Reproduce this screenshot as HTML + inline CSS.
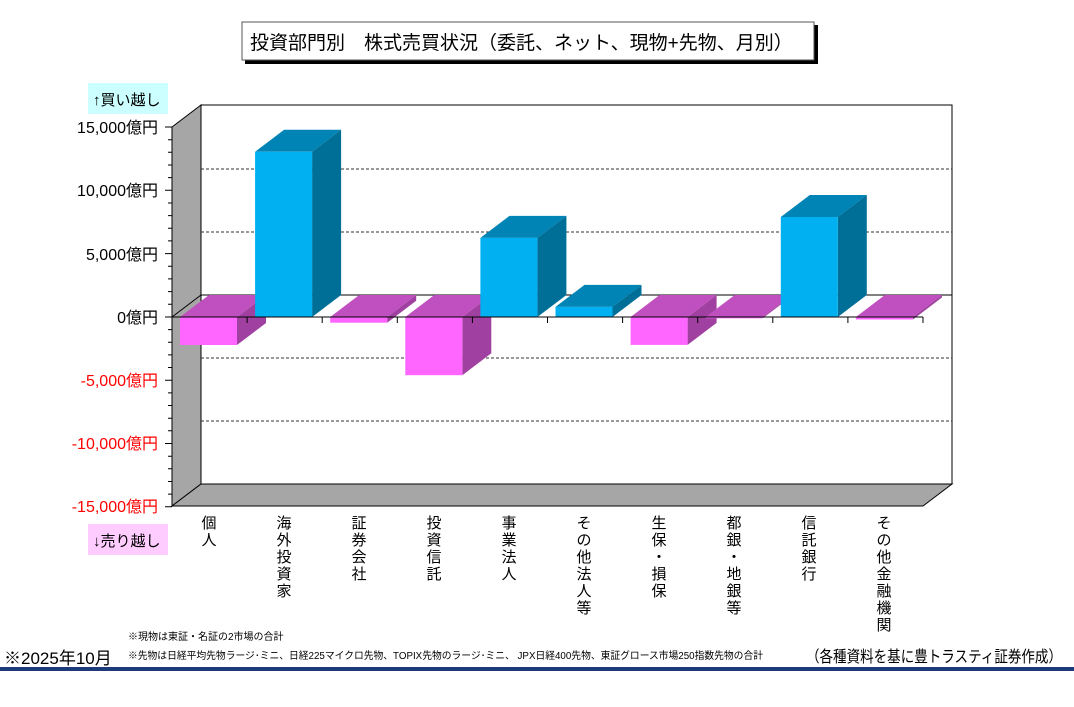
<!DOCTYPE html>
<html><head><meta charset="utf-8"><style>
body{margin:0;width:1074px;height:707px;background:#fff;overflow:hidden;font-family:"Liberation Sans","Noto Sans CJK JP",sans-serif;}
svg{position:absolute;left:0;top:0}
</style></head><body>
<svg width="1074" height="707" xmlns="http://www.w3.org/2000/svg" font-family="Liberation Sans, Noto Sans CJK JP, sans-serif">
<rect x="245" y="25" width="573" height="39" fill="#000"/>
<rect x="242" y="22" width="572" height="38" fill="#fff" stroke="#555" stroke-width="1"/>
<text x="250" y="49" font-size="19" fill="#000">投資部門別　株式売買状況（委託、ネット、現物+先物、月別）</text>
<rect x="88" y="83" width="80" height="31" fill="#ccffff"/>
<text x="93" y="105" font-size="15">↑買い越し</text>
<rect x="88" y="524" width="80" height="31" fill="#ffccff"/>
<text x="93" y="546" font-size="15">↓売り越し</text>
<polygon points="201,105 952,105 952,484 201,484" fill="#fff" stroke="#000" stroke-width="1"/>
<polygon points="172,127 201,105 201,484 172,506" fill="#a6a6a6" stroke="#000" stroke-width="1"/>
<polygon points="172,506 201,484 952,484 923,506" fill="#a6a6a6" stroke="#000" stroke-width="1"/>
<g stroke="#333" stroke-dasharray="3,2" stroke-width="1">
<line x1="201" y1="169" x2="952" y2="169"/><line x1="201" y1="232" x2="952" y2="232"/>
<line x1="201" y1="358" x2="952" y2="358"/><line x1="201" y1="421" x2="952" y2="421"/>
</g>
<line x1="201" y1="295" x2="952" y2="295" stroke="#000"/>
<line x1="172" y1="317" x2="201" y2="295" stroke="#000"/>
<g>
<!-- 0 -->
<polygon points="180,317 237,317 266,295 209,295" fill="#c050c0"/>
<polygon points="237,317 266,295 266,323 237,345" fill="#a040a0"/>
<rect x="180" y="317" width="57" height="28" fill="#ff66ff"/>
<!-- 1 -->
<polygon points="255.1,151.8 312.1,151.8 341.1,129.8 284.1,129.8" fill="#0083b5"/>
<polygon points="312.1,151.8 341.1,129.8 341.1,295 312.1,317" fill="#006f98"/>
<rect x="255.1" y="151.8" width="57" height="165.2" fill="#00b0f0"/>
<!-- 2 -->
<polygon points="330.2,317 387.2,317 416.2,295 359.2,295" fill="#c050c0"/>
<polygon points="387.2,317 416.2,295 416.2,300.7 387.2,322.7" fill="#a040a0"/>
<rect x="330.2" y="317" width="57" height="5.7" fill="#ff66ff"/>
<!-- 3 -->
<polygon points="405.3,317 462.3,317 491.3,295 434.3,295" fill="#c050c0"/>
<polygon points="462.3,317 491.3,295 491.3,353.2 462.3,375.2" fill="#a040a0"/>
<rect x="405.3" y="317" width="57" height="58.2" fill="#ff66ff"/>
<!-- 4 -->
<polygon points="480.4,237.9 537.4,237.9 566.4,215.9 509.4,215.9" fill="#0083b5"/>
<polygon points="537.4,237.9 566.4,215.9 566.4,295 537.4,317" fill="#006f98"/>
<rect x="480.4" y="237.9" width="57" height="79.1" fill="#00b0f0"/>
<!-- 5 -->
<polygon points="555.5,306.9 612.5,306.9 641.5,284.9 584.5,284.9" fill="#0083b5"/>
<polygon points="612.5,306.9 641.5,284.9 641.5,295 612.5,317" fill="#006f98"/>
<rect x="555.5" y="306.9" width="57" height="10.1" fill="#00b0f0"/>
<!-- 6 -->
<polygon points="630.6,317 687.6,317 716.6,295 659.6,295" fill="#c050c0"/>
<polygon points="687.6,317 716.6,295 716.6,322.9 687.6,344.9" fill="#a040a0"/>
<rect x="630.6" y="317" width="57" height="27.9" fill="#ff66ff"/>
<!-- 7 -->
<polygon points="705.7,317 762.7,317 791.7,295 734.7,295" fill="#c050c0"/>
<polygon points="762.7,317 791.7,295 791.7,296.3 762.7,318.3" fill="#a040a0"/>
<rect x="705.7" y="317" width="57" height="1.3" fill="#ff66ff"/>
<!-- 8 -->
<polygon points="780.8,217 837.8,217 866.8,195 809.8,195" fill="#0083b5"/>
<polygon points="837.8,217 866.8,195 866.8,295 837.8,317" fill="#006f98"/>
<rect x="780.8" y="217" width="57" height="100" fill="#00b0f0"/>
<!-- 9 -->
<polygon points="855.9,317 912.9,317 941.9,295 884.9,295" fill="#c050c0"/>
<polygon points="912.9,317 941.9,295 941.9,297.5 912.9,319.5" fill="#a040a0"/>
<rect x="855.9" y="317" width="57" height="2.5" fill="#ff66ff"/>
</g>
<line x1="172" y1="317" x2="923" y2="317" stroke="#000"/>
<line x1="172" y1="127" x2="172" y2="506" stroke="#000"/>
<path stroke="#000" fill="none" d="M247.1,317v6M322.2,317v6M397.3,317v6M472.4,317v6M547.5,317v6M622.6,317v6M697.7,317v6M772.8,317v6M847.9,317v6M923,317v6
M165,127h7M168,139.7h4M168,152.3h4M168,165h4M168,177.6h4M165,190.3h7M168,203h4M168,215.6h4M168,228.3h4M168,240.9h4M165,253.6h7M168,266.3h4M168,278.9h4M168,291.6h4M168,304.2h4M165,317h7M168,329.6h4M168,342.2h4M168,354.9h4M168,367.5h4M165,380.2h7M168,392.9h4M168,405.5h4M168,418.2h4M168,430.8h4M165,443.5h7M168,456.2h4M168,468.8h4M168,481.5h4M168,494.1h4M165,506.8h7"/>
<g font-size="16" text-anchor="end">
<text x="158" y="133">15,000億円</text>
<text x="158" y="196">10,000億円</text>
<text x="158" y="260">5,000億円</text>
<text x="158" y="323">0億円</text>
<text x="158" y="386" fill="#f00">-5,000億円</text>
<text x="158" y="449" fill="#f00">-10,000億円</text>
<text x="158" y="512" fill="#f00">-15,000億円</text>
</g>
<g font-size="15" text-anchor="middle">
<text x="209" y="528">個</text><text x="209" y="545">人</text>
<text x="284" y="528">海</text><text x="284" y="545">外</text><text x="284" y="562">投</text><text x="284" y="579">資</text><text x="284" y="596">家</text>
<text x="359" y="528">証</text><text x="359" y="545">券</text><text x="359" y="562">会</text><text x="359" y="579">社</text>
<text x="434" y="528">投</text><text x="434" y="545">資</text><text x="434" y="562">信</text><text x="434" y="579">託</text>
<text x="509" y="528">事</text><text x="509" y="545">業</text><text x="509" y="562">法</text><text x="509" y="579">人</text>
<text x="584" y="528">そ</text><text x="584" y="545">の</text><text x="584" y="562">他</text><text x="584" y="579">法</text><text x="584" y="596">人</text><text x="584" y="613">等</text>
<text x="659" y="528">生</text><text x="659" y="545">保</text><text x="659" y="562">・</text><text x="659" y="579">損</text><text x="659" y="596">保</text>
<text x="734" y="528">都</text><text x="734" y="545">銀</text><text x="734" y="562">・</text><text x="734" y="579">地</text><text x="734" y="596">銀</text><text x="734" y="613">等</text>
<text x="809" y="528">信</text><text x="809" y="545">託</text><text x="809" y="562">銀</text><text x="809" y="579">行</text>
<text x="884" y="528">そ</text><text x="884" y="545">の</text><text x="884" y="562">他</text><text x="884" y="579">金</text><text x="884" y="596">融</text><text x="884" y="613">機</text><text x="884" y="630">関</text>
</g>
<text x="128" y="640" font-size="10">※現物は東証・名証の2市場の合計</text>
<text x="128" y="659" font-size="10" textLength="635" lengthAdjust="spacingAndGlyphs">※先物は日経平均先物ラージ･ミニ、日経225マイクロ先物、TOPIX先物のラージ･ミニ、 JPX日経400先物、東証グロース市場250指数先物の合計</text>
<text x="4" y="664" font-size="17">※2025年10月</text>
<text x="806" y="662" font-size="16" textLength="256" lengthAdjust="spacingAndGlyphs">（各種資料を基に豊トラスティ証券作成）</text>
<rect x="0" y="667" width="1074" height="4" fill="#1f3a78"/>
</svg>
</body></html>
